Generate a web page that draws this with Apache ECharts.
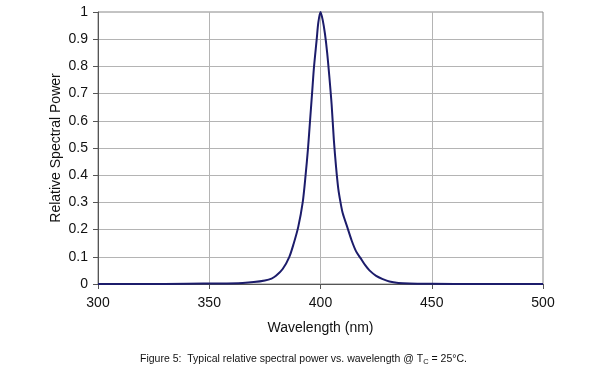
<!DOCTYPE html>
<html><head><meta charset="utf-8">
<script src="https://cdn.jsdelivr.net/npm/echarts@6/dist/echarts.min.js"></script>
<style>html,body{margin:0;padding:0;background:#fff}#c{width:600px;height:372px}</style>
</head><body><div id="c"></div>
<script>
const wavelengths = [300,320,340,355,365,370,375,378,380,383,386,388,390,392,393.3,394.4,395.3,396.2,397.1,398.3,399,400,401,402,403,404,405,406,407,408,409,410,412,414,416,418,420,422,425,428,431,435,440,450,470,500];
const power = [0,0,0.001,0.002,0.004,0.007,0.013,0.02,0.03,0.055,0.1,0.15,0.21,0.3,0.4,0.5,0.6,0.7,0.8,0.9,0.96,1.0,0.97,0.92,0.85,0.76,0.66,0.53,0.43,0.35,0.3,0.26,0.21,0.16,0.12,0.095,0.07,0.05,0.03,0.018,0.009,0.004,0.002,0.001,0,0];
const xTicks = [300,350,400,450,500];
const yTicks = [0,0.1,0.2,0.3,0.4,0.5,0.6,0.7,0.8,0.9,1];

const chart = echarts.init(document.getElementById('c'));
const font = 'Liberation Sans, Arial, sans-serif';
chart.setOption({
  animation:false,
  grid:{left:98,right:57,top:12,bottom:88,show:true,borderColor:'#888',borderWidth:1,backgroundColor:'transparent'},
  xAxis:{type:'value',min:xTicks[0],max:xTicks[xTicks.length-1],interval:50,
    name:'Wavelength (nm)',nameLocation:'middle',nameGap:37,nameMoveOverlap:false,
    nameTextStyle:{fontFamily:font,fontSize:14,color:'#111'},
    axisLine:{lineStyle:{color:'#555',width:1}},
    axisTick:{show:true,length:5,lineStyle:{color:'#555'}},
    axisLabel:{fontFamily:font,fontSize:14,color:'#111',margin:12},
    splitLine:{show:true,showMaxLine:false,lineStyle:{color:'#b4b4b4',width:1}}},
  yAxis:{type:'value',min:yTicks[0],max:yTicks[yTicks.length-1],interval:0.1,
    name:'Relative Spectral Power',nameLocation:'middle',nameGap:35,nameMoveOverlap:false,
    nameTextStyle:{fontFamily:font,fontSize:14,color:'#111'},
    axisLine:{show:true,lineStyle:{color:'#555',width:1}},
    axisTick:{show:true,length:5,lineStyle:{color:'#555'}},
    axisLabel:{fontFamily:font,fontSize:14,color:'#111',margin:10,
      formatter:v=>String(Math.round(v*10)/10)},
    splitLine:{show:true,showMaxLine:false,lineStyle:{color:'#b4b4b4',width:1}}},
  series:[{type:'line',data:wavelengths.map((w,i)=>[w,power[i]]),
    smooth:0.3,showSymbol:false,lineStyle:{color:'#1c1c6b',width:2}}],
  graphic:[{type:'text',left:140,top:354,
    style:{text:'Figure 5:  Typical relative spectral power vs. wavelength @ T{s|C} = 25°C.',
      rich:{s:{fontSize:7.5,fontFamily:font,fill:'#111',verticalAlign:'bottom',padding:[4,0,0,0]}},
      font:'10.5px '+font,fill:'#111'}}]
});
</script></body></html>
